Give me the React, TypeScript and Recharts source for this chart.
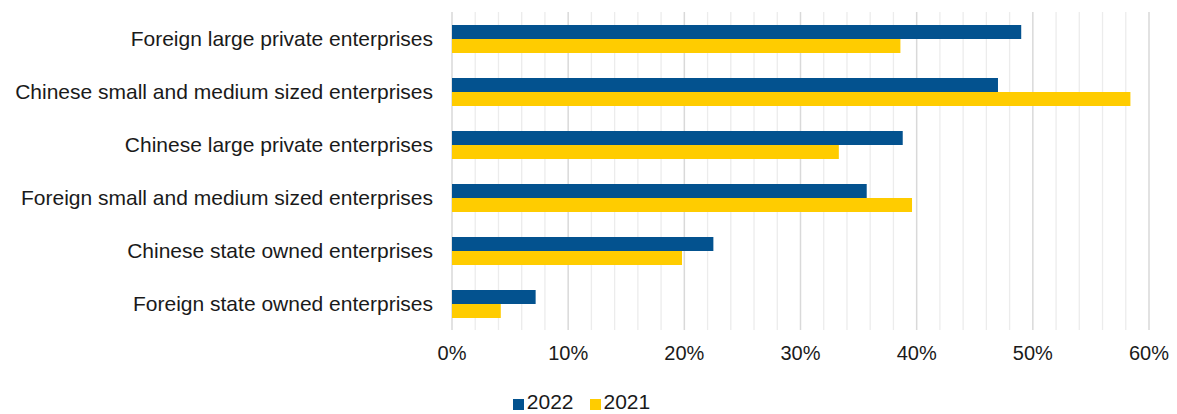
import React from "react";
import {
  BarChart,
  Bar,
  XAxis,
  YAxis,
  CartesianGrid,
  Legend,
  ReferenceLine,
} from "recharts";

const categories = [
  "Foreign large private enterprises",
  "Chinese small and medium sized enterprises",
  "Chinese large private enterprises",
  "Foreign small and medium sized enterprises",
  "Chinese state owned enterprises",
  "Foreign state owned enterprises",
];

const values2022 = [0.49, 0.47, 0.388, 0.357, 0.225, 0.072];
const values2021 = [0.386, 0.584, 0.333, 0.396, 0.198, 0.042];

const majorTicks = [0, 0.1, 0.2, 0.3, 0.4, 0.5, 0.6];
const minorTicks = [
  0.02, 0.04, 0.06, 0.08, 0.12, 0.14, 0.16, 0.18, 0.22, 0.24, 0.26, 0.28,
  0.32, 0.34, 0.36, 0.38, 0.42, 0.44, 0.46, 0.48, 0.52, 0.54, 0.56, 0.58,
];

const series = [
  { key: "y2022", name: "2022", color: "#03528f" },
  { key: "y2021", name: "2021", color: "#ffcc00" },
];

const data = categories.map((name, i) => ({
  name,
  y2022: values2022[i],
  y2021: values2021[i],
}));

const font = "'Liberation Sans', Arial, sans-serif";

function LegendContent() {
  return (
    <div
      style={{
        display: "flex",
        justifyContent: "center",
        alignItems: "center",
        height: 24,
        paddingLeft: 14,
        fontFamily: font,
        fontSize: 21,
        color: "#1a1a1a",
      }}
    >
      {series.map((s) => (
        <span
          key={s.key}
          style={{ display: "flex", alignItems: "center", margin: "0 8px" }}
        >
          <span
            style={{
              width: 11,
              height: 11,
              background: s.color,
              marginRight: 3,
              marginTop: 4,
            }}
          />
          {s.name}
        </span>
      ))}
    </div>
  );
}

export default function App() {
  return (
    <div style={{ position: "absolute", left: 0, top: 0 }}>
      <BarChart
        width={1177}
        height={414}
        data={data}
        layout="vertical"
        barSize={14}
        barGap={0}
        margin={{ top: 12, right: 28, bottom: 0, left: 0 }}
      >
        {minorTicks.map((v) => (
          <ReferenceLine
            key={v}
            x={v}
            stroke="#ececec"
            strokeWidth={1.3}
            zIndex={-100}
          />
        ))}
        <CartesianGrid horizontal={false} stroke="#d9d9d9" strokeWidth={1.5} />
        <XAxis
          type="number"
          domain={[0, 0.6]}
          ticks={majorTicks}
          tickFormatter={(v: number) => `${Math.round(v * 100)}%`}
          axisLine={false}
          tickLine={false}
          tickSize={0}
          tickMargin={16}
          height={60}
          tick={{ fill: "#1a1a1a", fontSize: 20, fontFamily: font }}
        />
        <YAxis
          type="category"
          dataKey="name"
          width={452}
          axisLine={false}
          tickLine={false}
          tickSize={0}
          tickMargin={19}
          tick={{ fill: "#1a1a1a", fontSize: 21, fontFamily: font }}
        />
        <Legend verticalAlign="bottom" height={24} content={<LegendContent />} />
        {series.map((s) => (
          <Bar
            key={s.key}
            dataKey={s.key}
            name={s.name}
            fill={s.color}
            isAnimationActive={false}
          />
        ))}
      </BarChart>
    </div>
  );
}
